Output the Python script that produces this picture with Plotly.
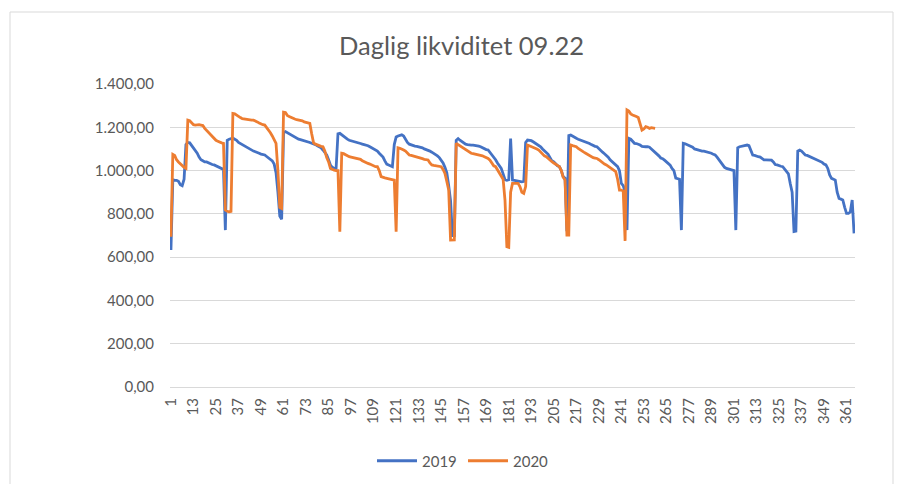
import plotly.graph_objects as go

# ---- data ----
values_2019 = [
    633, 958, 955, 955, 950, 935, 930, 960, 1120, 1130,
    1128, 1115, 1105, 1095, 1080, 1062, 1050, 1045, 1040, 1040,
    1035, 1030, 1028, 1026, 1022, 1018, 1015, 1010, 1005, 725,
    1140, 1145, 1148, 1150, 1145, 1140, 1130, 1125, 1118, 1112,
    1110, 1105, 1098, 1092, 1090, 1087, 1085, 1080, 1076, 1074,
    1072, 1065, 1058, 1052, 1045, 1030, 990, 900, 790, 775,
    1175, 1180, 1175, 1168, 1162, 1157, 1152, 1150, 1145, 1143,
    1141, 1138, 1135, 1132, 1130, 1126, 1124, 1120, 1115, 1110,
    1105, 1095, 1085, 1072, 1050, 1025, 1015, 1010, 1010, 1170,
    1172, 1165, 1155, 1150, 1145, 1140, 1138, 1135, 1133, 1132,
    1128, 1125, 1122, 1120, 1118, 1115, 1110, 1105, 1100, 1095,
    1090, 1080, 1070, 1062, 1045, 1030, 1026, 1020, 1018, 1120,
    1155, 1160, 1163, 1165, 1160, 1145, 1130, 1122, 1118, 1115,
    1113, 1112, 1110, 1110, 1105, 1100, 1097, 1095, 1090, 1085,
    1080, 1075, 1068, 1060, 1050, 1035, 1015, 990, 930, 860,
    700, 700, 1140, 1148, 1140, 1133, 1128, 1122, 1120, 1118,
    1118, 1118, 1117, 1115, 1113, 1110, 1105, 1100, 1097, 1095,
    1085, 1072, 1060, 1050, 1035, 1020, 1010, 985, 958, 955,
    958, 1148, 956, 955, 953, 950, 948, 948, 950, 1130,
    1141, 1141, 1138, 1133, 1128, 1122, 1117, 1110, 1100, 1092,
    1087, 1075, 1060, 1045, 1040, 1030, 1022, 1018, 1000, 972,
    965, 720, 1162, 1164, 1158, 1152, 1149, 1145, 1142, 1140,
    1136, 1133, 1130, 1125, 1120, 1115, 1112, 1110, 1100, 1092,
    1085, 1078, 1072, 1062, 1050, 1041, 1035, 1025, 1018, 1000,
    941, 930, 900, 725, 1149, 1145, 1135, 1126, 1125, 1122,
    1118, 1112, 1110, 1110, 1110, 1108, 1100, 1092, 1087, 1080,
    1068, 1058, 1055, 1048, 1040, 1033, 1025, 1010, 1000, 965,
    962, 960, 725, 1126, 1124, 1120, 1117, 1112, 1108, 1100,
    1097, 1095, 1092, 1090, 1090, 1088, 1087, 1085, 1080, 1075,
    1072, 1062, 1050, 1041, 1030, 1015, 1010, 1008, 1005, 1002,
    1000, 725, 1105, 1110, 1112, 1115, 1118, 1118, 1115, 1095,
    1072, 1070, 1066, 1064, 1062, 1055, 1049, 1049, 1049, 1049,
    1048, 1040, 1028, 1026, 1022, 1020, 1018, 1005, 995, 985,
    940, 900, 718, 720, 1090, 1095, 1090, 1080, 1072, 1070,
    1066, 1064, 1060, 1055, 1050, 1049, 1045, 1038, 1030, 1026,
    1010, 980, 964, 960, 956, 900, 871, 868, 864, 830,
    802, 802, 810, 864, 710,
]

values_2020 = [
    694, 1075, 1070, 1050, 1040, 1030, 1020, 1015, 1010, 1233,
    1230, 1220, 1212, 1210, 1212, 1212, 1210, 1208, 1195, 1185,
    1175, 1168, 1155, 1145, 1140, 1135, 1130, 1128, 1126, 818,
    812, 810, 812, 1264, 1262, 1255, 1250, 1245, 1240, 1238,
    1236, 1235, 1234, 1233, 1233, 1230, 1225, 1220, 1215, 1212,
    1210, 1200, 1185, 1175, 1160, 1140, 1126, 1000, 830, 825,
    1270, 1268, 1255, 1250, 1245, 1240, 1238, 1235, 1233, 1233,
    1230, 1225, 1222, 1220, 1218, 1170, 1128, 1122, 1118, 1115,
    1112, 1110, 1090, 1060, 1040, 1010, 1005, 1002, 1000, 1000,
    718, 1080, 1078, 1072, 1066, 1064, 1062, 1060, 1058, 1056,
    1056, 1052, 1045, 1040, 1036, 1033, 1030, 1025, 1020, 1018,
    1018, 1000, 972, 968, 966, 964, 962, 960, 958, 956,
    718, 1105, 1103, 1100, 1095, 1090, 1080, 1072, 1070, 1068,
    1066, 1064, 1062, 1058, 1055, 1052, 1050, 1049, 1035, 1026,
    1024, 1022, 1020, 1019, 1018, 1005, 987, 950, 910, 679,
    679, 680, 1126, 1120, 1115, 1110, 1102, 1095, 1088, 1082,
    1080, 1078, 1076, 1074, 1073, 1072, 1068, 1064, 1060, 1056,
    1048, 1035, 1022, 1018, 1005, 990, 979, 960, 864, 648,
    645, 900, 941, 941, 941, 941, 925, 900, 895, 926,
    1118, 1115, 1110, 1108, 1105, 1100, 1095, 1085, 1075, 1068,
    1064, 1055, 1048, 1041, 1035, 1028, 1022, 1018, 1000, 970,
    956, 702, 702, 1118, 1115, 1112, 1110, 1102, 1095, 1090,
    1085, 1080, 1075, 1068, 1064, 1060, 1058, 1056, 1050, 1042,
    1035, 1030, 1026, 1020, 1012, 1005, 1000, 995, 960, 910,
    910, 905, 675, 1280, 1275, 1262, 1257, 1255, 1250, 1245,
    1210, 1187, 1192, 1203, 1200, 1195, 1198, 1195, 1195,
]

days_2019 = list(range(1, len(values_2019) + 1))
days_2020 = list(range(1, len(values_2020) + 1))

x_tick_values = list(range(1, 366, 12))
x_tick_labels = [str(v) for v in x_tick_values]
y_tick_values = [0, 200, 400, 600, 800, 1000, 1200, 1400]
y_tick_labels = ["0,00", "200,00", "400,00", "600,00", "800,00",
                 "1.000,00", "1.200,00", "1.400,00"]

title_text = "Daglig likviditet 09.22"
series_names = ["2019", "2020"]

# ---- figure ----
OFF = 8  # page body margin
W, H = 902, 484
pw, ph = 685, 303
L = 170 - OFF
T = 84 - OFF
R = W - L - pw
B = H - T - ph

def px_x(px):
    return (px - OFF - L) / pw

def px_y(py):
    return (T + ph - (py - OFF)) / ph

FONT = "Lato, 'Open Sans', sans-serif"
GREY = "#595959"

fig = go.Figure()
fig.add_trace(go.Scatter(x=days_2019, y=values_2019, mode="lines",
                         name=series_names[0],
                         line=dict(color="#4472C4", width=2.8)))
fig.add_trace(go.Scatter(x=days_2020, y=values_2020, mode="lines",
                         name=series_names[1],
                         line=dict(color="#ED7D31", width=2.8)))

fig.update_layout(
    width=W, height=H,
    margin=dict(l=L, r=R, t=T, b=B, autoexpand=False),
    paper_bgcolor="white", plot_bgcolor="white",
    font=dict(family=FONT, color=GREY, size=15),
    showlegend=True,
    legend=dict(orientation="h", x=px_x(463), y=px_y(461),
                xanchor="center", yanchor="middle",
                font=dict(size=15, color=GREY),
                itemwidth=40,
                entrywidth=36, entrywidthmode="pixels",
                traceorder="normal"),
    xaxis=dict(range=[0.5, 365.5], tickmode="array",
               tickvals=x_tick_values, ticktext=x_tick_labels,
               tickangle=-90, showgrid=False, zeroline=False,
               showline=True, linecolor="#d9d9d9", linewidth=1,
               ticks="", ticklabelstandoff=4,
               tickfont=dict(size=15, color=GREY)),
    yaxis=dict(range=[0, 1400], tickmode="array",
               tickvals=y_tick_values, ticktext=y_tick_labels,
               showgrid=True, gridcolor="#d9d9d9", gridwidth=1,
               zeroline=False, showline=False, ticks="",
               ticklabelstandoff=15,
               tickfont=dict(size=15, color=GREY)),
    shapes=[dict(type="rect", xref="paper", yref="paper",
                 x0=px_x(10), x1=px_x(893), y0=px_y(520), y1=px_y(12),
                 line=dict(color="#d9d9d9", width=1),
                 fillcolor="rgba(0,0,0,0)", layer="below")],
    annotations=[dict(text=title_text, xref="paper", yref="paper",
                      x=px_x(461), y=px_y(45), xanchor="center",
                      yanchor="middle", showarrow=False,
                      font=dict(size=25.5, color=GREY, family=FONT))],
)

fig.write_html("out.html")
